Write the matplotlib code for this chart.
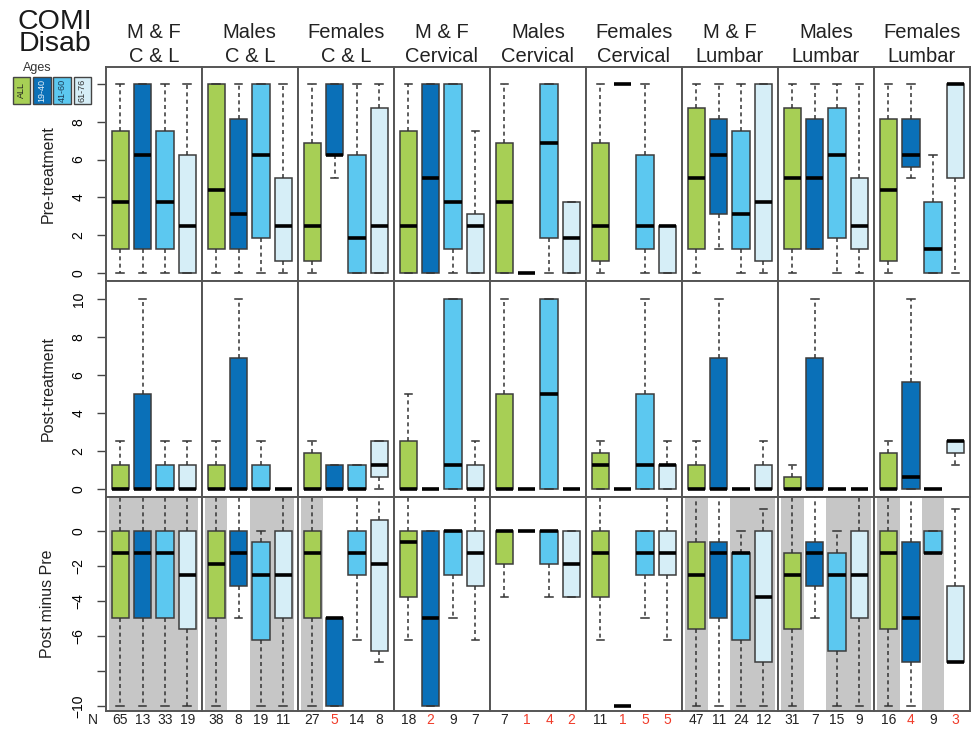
import numpy as np
import matplotlib.pyplot as plt
from matplotlib.patches import Rectangle

plt.rcParams['font.family'] = ['Liberation Sans', 'DejaVu Sans']

# column headers
groups_top = ['M & F', 'Males', 'Females', 'M & F', 'Males', 'Females', 'M & F', 'Males', 'Females']
groups_bottom = ['C & L', 'C & L', 'C & L', 'Cervical', 'Cervical', 'Cervical', 'Lumbar', 'Lumbar', 'Lumbar']

age_labels = ['ALL', '19-40', '41-60', '61-76']
age_colors = ['#a7cf55', '#0a70b8', '#5cc8f0', '#d6eef7']
age_text_colors = ['#222222', '#e8f2fa', '#1a3a55', '#333333']

n_counts = [[65, 13, 33, 19], [38, 8, 19, 11], [27, 5, 14, 8],
            [18, 2, 9, 7], [7, 1, 4, 2], [11, 1, 5, 5],
            [47, 11, 24, 12], [31, 7, 15, 9], [16, 4, 9, 3]]

# Pre-treatment COMI disability (whisker low, Q1, median, Q3, whisker high)
pre_lo = [[0, 0, 0, 0], [0, 0, 0, 0], [0, 5, 0, 0], [0, 0, 0, 0], [0, 0, 0, 0],
          [0, 10, 0, 0], [0, 1.25, 0, 0], [0, 1.25, 0, 0], [0, 5, 0, 0]]
pre_q1 = [[1.25, 1.25, 1.25, 0], [1.25, 1.25, 1.875, 0.625], [0.625, 6.25, 0, 0],
          [0, 0, 1.25, 0], [0, 0, 1.875, 0], [0.625, 10, 1.25, 0],
          [1.25, 3.125, 1.25, 0.625], [1.25, 1.25, 1.875, 1.25], [0.625, 5.625, 0, 5]]
pre_med = [[3.75, 6.25, 3.75, 2.5], [4.375, 3.125, 6.25, 2.5], [2.5, 6.25, 1.875, 2.5],
           [2.5, 5, 3.75, 2.5], [3.75, 0, 6.875, 1.875], [2.5, 10, 2.5, 2.5],
           [5, 6.25, 3.125, 3.75], [5, 5, 6.25, 2.5], [4.375, 6.25, 1.25, 10]]
pre_q3 = [[7.5, 10, 7.5, 6.25], [10, 8.125, 10, 5], [6.875, 10, 6.25, 8.75],
          [7.5, 10, 10, 3.125], [6.875, 0, 10, 3.75], [6.875, 10, 6.25, 2.5],
          [8.75, 8.125, 7.5, 10], [8.75, 8.125, 8.75, 5], [8.125, 8.125, 3.75, 10]]
pre_hi = [[10, 10, 10, 10], [10, 10, 10, 10], [10, 10, 10, 10],
          [10, 10, 10, 7.5], [10, 0, 10, 3.75], [10, 10, 10, 2.5],
          [10, 10, 10, 10], [10, 10, 10, 10], [10, 10, 6.25, 10]]

# Post-treatment
post_lo = [[0, 0, 0, 0], [0, 0, 0, 0], [0, 0, 0, 0], [0, 0, 0, 0], [0, 0, 0, 0],
           [0, 0, 0, 0], [0, 0, 0, 0], [0, 0, 0, 0], [0, 0, 0, 1.25]]
post_q1 = [[0, 0, 0, 0], [0, 0, 0, 0], [0, 0, 0, 0.625], [0, 0, 0, 0], [0, 0, 0, 0],
           [0, 0, 0, 0], [0, 0, 0, 0], [0, 0, 0, 0], [0, 0, 0, 1.875]]
post_med = [[0, 0, 0, 0], [0, 0, 0, 0], [0, 0, 0, 1.25], [0, 0, 1.25, 0], [0, 0, 5, 0],
            [1.25, 0, 1.25, 1.25], [0, 0, 0, 0], [0, 0, 0, 0], [0, 0.625, 0, 2.5]]
post_q3 = [[1.25, 5, 1.25, 1.25], [1.25, 6.875, 1.25, 0], [1.875, 1.25, 1.25, 2.5],
           [2.5, 0, 10, 1.25], [5, 0, 10, 0], [1.875, 0, 5, 1.25],
           [1.25, 6.875, 0, 1.25], [0.625, 6.875, 0, 0], [1.875, 5.625, 0, 2.5]]
post_hi = [[2.5, 10, 2.5, 2.5], [2.5, 10, 2.5, 0], [2.5, 1.25, 1.25, 2.5],
           [5, 0, 10, 2.5], [10, 0, 10, 0], [2.5, 0, 10, 2.5],
           [2.5, 10, 0, 2.5], [1.25, 10, 0, 0], [2.5, 10, 0, 2.5]]

# Post minus Pre
diff_lo = [[-10, -10, -10, -10], [-10, -5, -10, -10], [-10, -10, -6.25, -7.5],
           [-6.25, -10, -5, -6.25], [-3.75, 0, -3.75, -3.75], [-6.25, -10, -5, -6.25],
           [-10, -10, -10, -10], [-10, -5, -10, -10], [-10, -10, -1.25, -7.5]]
diff_q1 = [[-5, -5, -5, -5.625], [-5, -3.125, -6.25, -5], [-5, -10, -2.5, -6.875],
           [-3.75, -10, -2.5, -3.125], [-1.875, 0, -1.875, -3.75], [-3.75, -10, -2.5, -2.5],
           [-5.625, -5, -6.25, -7.5], [-5.625, -3.125, -6.875, -5], [-5.625, -7.5, -1.25, -7.5]]
diff_med = [[-1.25, -1.25, -1.25, -2.5], [-1.875, -1.25, -2.5, -2.5], [-1.25, -5, -1.25, -1.875],
            [-0.625, -5, 0, -1.25], [0, 0, 0, -1.875], [-1.25, -10, -1.25, -1.25],
            [-2.5, -1.25, -1.25, -3.75], [-2.5, -1.25, -2.5, -2.5], [-1.25, -5, -1.25, -7.5]]
diff_q3 = [[0, 0, 0, 0], [0, 0, -0.625, 0], [0, -5, 0, 0.625],
           [0, 0, 0, 0], [0, 0, 0, 0], [0, -10, 0, 0],
           [-0.625, -0.625, -1.25, 0], [-1.25, -0.625, -1.25, 0], [0, -0.625, 0, -3.125]]
diff_hi = [[2.5, 2.5, 2.5, 2.5], [2.5, 2.5, 0, 2.5], [2.5, -5, 2.5, 2.5],
           [2.5, 0, 0, 2.5], [0, 0, 0, 0], [2.5, -10, 0, 2.5],
           [2.5, 2.5, 0, 1.25], [2.5, 2.5, 0, 2.5], [2.5, 2.5, 0, 1.25]]
# grey band behind the age groups in the difference row
diff_shaded = [[1, 1, 1, 1], [1, 0, 1, 1], [1, 0, 0, 0], [0, 0, 0, 0], [0, 0, 0, 0],
               [0, 0, 0, 0], [1, 0, 1, 1], [1, 0, 1, 1], [1, 0, 1, 0]]

rows = [
    dict(lo=pre_lo, q1=pre_q1, med=pre_med, q3=pre_q3, hi=pre_hi, title='Pre-treatment',
         ylim=(-0.4, 10.9), ticks=[0, 2, 4, 6, 8, 10], labels=['0', '2', '4', '6', '8', '']),
    dict(lo=post_lo, q1=post_q1, med=post_med, q3=post_q3, hi=post_hi, title='Post-treatment',
         ylim=(-0.44, 10.97), ticks=[0, 2, 4, 6, 8, 10], labels=['0', '2', '4', '6', '8', '10']),
    dict(lo=diff_lo, q1=diff_q1, med=diff_med, q3=diff_q3, hi=diff_hi, title='Post minus Pre',
         ylim=(-10.3, 1.95), ticks=[0, -2, -4, -6, -8, -10],
         labels=['0', '\u22122', '\u22124', '\u22126', '', '\u221210']),
]

W, H = 978, 740
fig = plt.figure(figsize=(W / 100, H / 100), dpi=100)
left, right = 105.7, 970.0
row_edges = [67, 280.5, 497, 711]
pw = (right - left) / 9
positions = [1, 2, 3, 4]
edge_col = '#555555'

for r, row in enumerate(rows):
    top, bot = row_edges[r], row_edges[r + 1]
    for p in range(9):
        ax = fig.add_axes([(left + p * pw) / W, 1 - bot / H, pw / W, (bot - top) / H])
        stats = []
        for b in range(4):
            stats.append(dict(whislo=row['lo'][p][b], q1=row['q1'][p][b], med=row['med'][p][b],
                              q3=row['q3'][p][b], whishi=row['hi'][p][b], fliers=[]))
        if r == 2:
            for b in range(4):
                if diff_shaded[p][b]:
                    ax.axvspan(positions[b] - 0.5, positions[b] + 0.5, color='#c6c6c6', lw=0, zorder=0)
        bp = ax.bxp(stats, positions=positions, widths=0.78, patch_artist=True, showfliers=False,
                    capwidths=0.34,
                    boxprops=dict(edgecolor='#3c3c3c', linewidth=1.1),
                    whiskerprops=dict(color='#333333', linewidth=1.1, linestyle=(0, (2.6, 2.2))),
                    capprops=dict(color='#333333', linewidth=1.1),
                    medianprops=dict(color='black', linewidth=2.6, solid_capstyle='butt'))
        for patch, c in zip(bp['boxes'], age_colors):
            patch.set_facecolor(c)
        ax.set_xlim(0.35, 4.65)
        ax.set_ylim(*row['ylim'])
        ax.set_xticks([])
        for s in ax.spines.values():
            s.set_color(edge_col)
            s.set_linewidth(1.4)
        if p == 0:
            ax.set_yticks(row['ticks'])
            ax.set_yticklabels(row['labels'], rotation=90, va='center', fontsize=10)
            ax.tick_params(axis='y', length=6.5, width=1, color='#444444', pad=8)
        else:
            ax.set_yticks([])
        if r == 0:
            ax.text(0.5, 1.16, groups_top[p], transform=ax.transAxes, ha='center', va='center',
                    fontsize=14.5, color='#222222')
            ax.text(0.5, 1.048, groups_bottom[p], transform=ax.transAxes, ha='center', va='center',
                    fontsize=14.5, color='#222222')
        if r == 2:
            for b in range(4):
                n = n_counts[p][b]
                ax.text(positions[b], -0.042, str(n), transform=ax.get_xaxis_transform(),
                        ha='center', va='center', fontsize=10,
                        color='#f03c2a' if n <= 5 else '#222222')
    fig.text(48 / W, 1 - (top + bot) / 2 / H, row['title'], rotation=90, ha='center', va='center',
             fontsize=11.5, color='#222222')

fig.text(93 / W, 1 - 720 / H, 'N', ha='center', va='center', fontsize=10, color='#222222')

# title and age legend in the top-left corner
fig.text(55 / W, 1 - 9 / H, 'COMI\nDisab', ha='center', va='top', multialignment='center',
         linespacing=0.82, fontsize=20.5, color='#1a1a1a')
fig.text(37 / W, 1 - 68.5 / H, 'Ages', ha='center', va='center', fontsize=9, color='#333333')
for i, (lab, c, tc) in enumerate(zip(age_labels, age_colors, age_text_colors)):
    x0 = 13 + i * 20.2
    fig.add_artist(Rectangle((x0 / W, 1 - 103.5 / H), 17.5 / W, 27 / H, transform=fig.transFigure,
                             facecolor=c, edgecolor='#444444', linewidth=1.0))
    fig.text((x0 + 8.75) / W, 1 - 90 / H, lab, rotation=90, ha='center', va='center',
             fontsize=6.5, color=tc)

fig.savefig('out.png', dpi=100)
